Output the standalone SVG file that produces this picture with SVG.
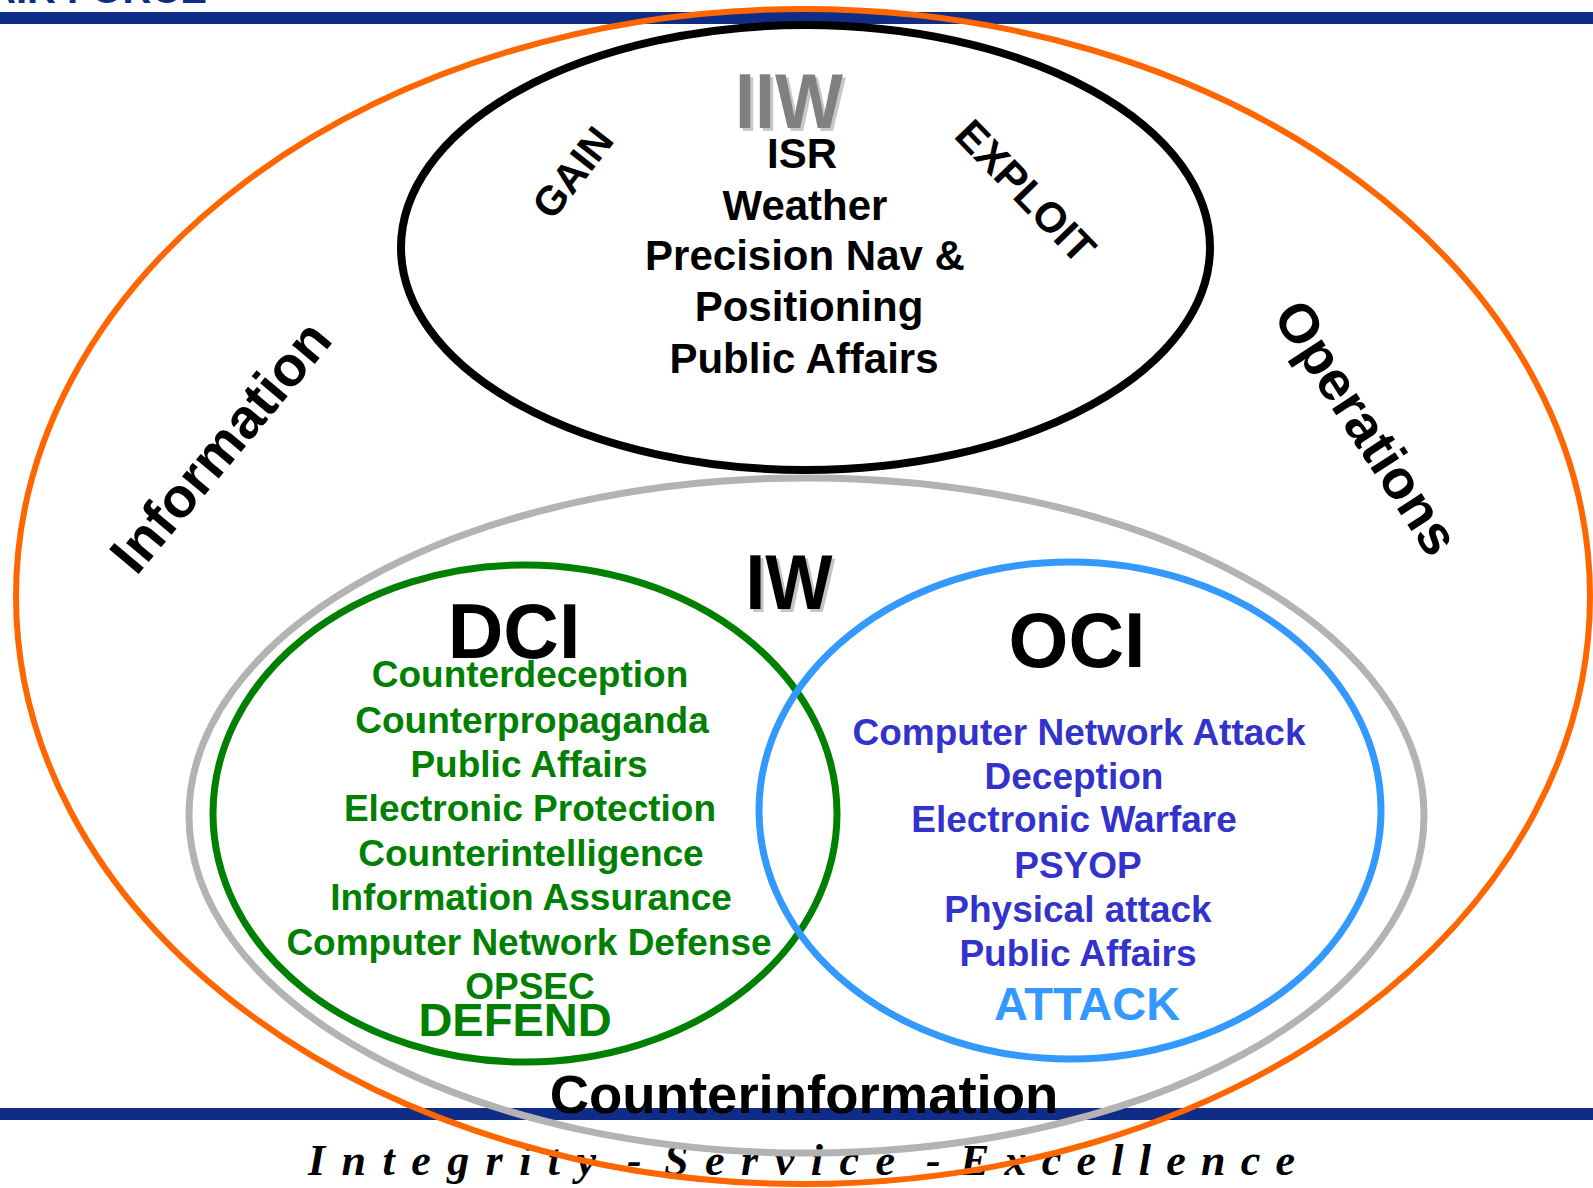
<svg xmlns="http://www.w3.org/2000/svg" width="1593" height="1188" viewBox="0 0 1593 1188">
<style>
.t{font-family:'Liberation Sans',Arial,Helvetica,sans-serif;font-weight:bold;text-anchor:middle}
.ring{fill:none}
.dg{fill:#008000;font-size:37px}
.ob{fill:#3333cc;font-size:37px}
.bk{fill:#000000;font-size:42px}
.big{font-size:77px;fill:#000000}
.band{fill:#0f2d86}
.motto{font-family:'Liberation Serif','Times New Roman',serif;font-weight:bold;font-style:italic;font-size:44px;fill:#000000}
</style>
<rect x="0" y="0" width="1593" height="1188" fill="#ffffff"/>
<g id="header">
<text class="t" x="207" y="3" style="text-anchor:end;font-size:40px;fill:#0f2d86">AIR FORCE</text>
<rect class="band" x="0" y="12" width="1593" height="12"/>
</g>
<g id="footer">
<rect class="band" x="0" y="1108" width="1593" height="12"/>
<text class="motto" y="1175"><tspan x="308" textLength="288" lengthAdjust="spacing">Integrity</tspan> <tspan x="627">-</tspan> <tspan x="664" textLength="231" lengthAdjust="spacing">Service</tspan> <tspan x="926">-</tspan> <tspan x="960" textLength="335" lengthAdjust="spacing">Excellence</tspan></text>
</g>
<g id="connectors"></g>
<g id="node-information-operations">
<ellipse class="ring" cx="803" cy="596.5" rx="787" ry="587.5" stroke="#ff6600" stroke-width="6"/>
<text class="t" transform="translate(220,446) rotate(-50)" y="20" style="font-size:56px">Information</text>
<text class="t" transform="translate(1366,428) rotate(57)" y="18" style="font-size:55px">Operations</text>
</g>
<g id="node-iw">
<ellipse class="ring" cx="806.5" cy="815.5" rx="617.5" ry="337.5" stroke="#b3b3b3" stroke-width="7"/>
<text class="t" x="792" y="612" textLength="87" lengthAdjust="spacingAndGlyphs" style="font-size:78px;fill:#c4c4c4">IW</text>
<text class="t" x="789" y="609" textLength="87" lengthAdjust="spacingAndGlyphs" style="font-size:78px;fill:#000">IW</text>
<text class="t" x="804" y="1113" style="font-size:54.5px">Counterinformation</text>
</g>
<g id="node-iiw">
<ellipse class="ring" cx="805.5" cy="247.5" rx="404.5" ry="222.5" stroke="#000000" stroke-width="8"/>
<text class="t" x="792" y="131" textLength="108" lengthAdjust="spacingAndGlyphs" style="font-size:78px;fill:#c8c8c8">IIW</text>
<text class="t" x="789" y="128" textLength="108" lengthAdjust="spacingAndGlyphs" style="font-size:78px;fill:#808080">IIW</text>
<text class="t bk" x="802" y="168">ISR</text>
<text class="t bk" x="805" y="220">Weather</text>
<text class="t bk" x="805" y="270">Precision Nav &amp;</text>
<text class="t bk" x="809" y="321">Positioning</text>
<text class="t bk" x="804" y="373">Public Affairs</text>
<text class="t" transform="translate(572,172) rotate(-52)" y="15" style="font-size:41px">GAIN</text>
<text class="t" transform="translate(1026,191) rotate(46)" y="15" style="font-size:42px">EXPLOIT</text>
</g>
<g id="node-dci">
<ellipse class="ring" cx="525" cy="813.5" rx="312" ry="248.5" stroke="#008000" stroke-width="7"/>
<text class="t big" x="514" y="658">DCI</text>
<text class="t dg" x="530" y="687">Counterdeception</text>
<text class="t dg" x="532" y="733">Counterpropaganda</text>
<text class="t dg" x="529" y="777">Public Affairs</text>
<text class="t dg" x="530" y="821">Electronic Protection</text>
<text class="t dg" x="531" y="866">Counterintelligence</text>
<text class="t dg" x="531" y="910">Information Assurance</text>
<text class="t dg" x="529" y="955">Computer Network Defense</text>
<text class="t dg" x="530" y="999">OPSEC</text>
<text class="t" x="515" y="1036" style="font-size:47px;fill:#008000">DEFEND</text>
</g>
<g id="node-oci">
<ellipse class="ring" cx="1070" cy="810.5" rx="311" ry="248.5" stroke="#3399ff" stroke-width="7"/>
<text class="t big" x="1077" y="667">OCI</text>
<text class="t ob" x="1079" y="745">Computer Network Attack</text>
<text class="t ob" x="1074" y="789">Deception</text>
<text class="t ob" x="1074" y="832">Electronic Warfare</text>
<text class="t ob" x="1078" y="878">PSYOP</text>
<text class="t ob" x="1078" y="922">Physical attack</text>
<text class="t ob" x="1078" y="966">Public Affairs</text>
<text class="t" x="1087" y="1020" style="font-size:47px;fill:#3399ff">ATTACK</text>
</g>
</svg>
